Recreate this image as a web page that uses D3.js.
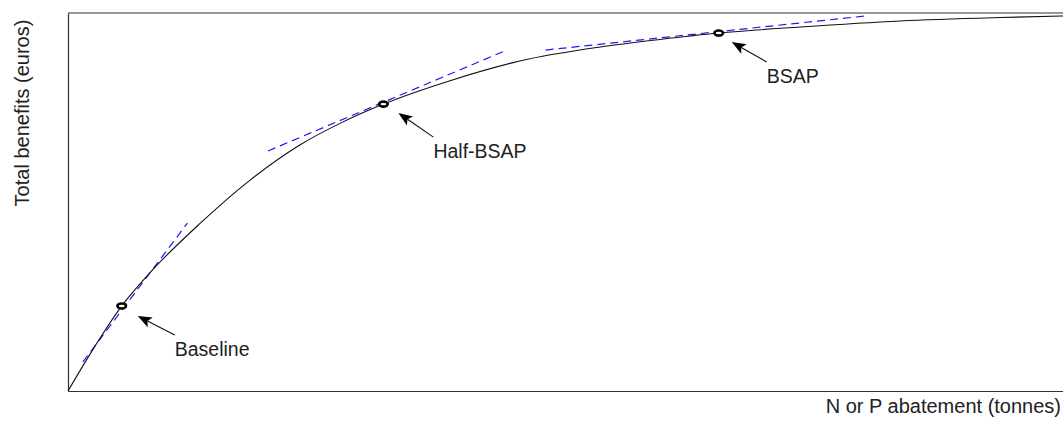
<!DOCTYPE html>
<html><head><meta charset="utf-8">
<script src="https://cdn.jsdelivr.net/npm/d3@7"></script>
<style>body{margin:0;background:#fff}svg{display:block}text{font-family:"Liberation Sans",Arial,sans-serif;fill:#222}</style>
</head><body>
<script>
// Curve data (arbitrary units)
const abatement = [0, 2.7, 5.4, 8.2, 13.3, 18.3, 23.3, 27.5, 31.7, 38.4, 45.4, 53.5, 59.5, 65.4, 73.6, 83.6, 93.7, 100];
const benefits  = [0, 11.8, 22.5, 31.2, 44.4, 55.8, 65.1, 71.0, 75.9, 82.1, 87.3, 91.0, 93.0, 94.7, 96.3, 97.9, 98.8, 99.2];
// Highlighted scenarios
const scenarioNames = ["Baseline", "Half-BSAP", "BSAP"];
const scenarioX = [5.4, 31.7, 65.4];
const scenarioY = [22.5, 75.9, 94.7];
// Tangent line endpoints per scenario
const tangentX1 = [1.5, 20.1, 48.0];
const tangentY1 = [7.7, 63.5, 90.2];
const tangentX2 = [12.0, 44.1, 80.1];
const tangentY2 = [44.4, 90.2, 99.2];
const xTitle = "N or P abatement (tonnes)";
const yTitle = "Total benefits (euros)";

const W = 1063, H = 430;
const m = {left: 68, top: 13, right: 1063, bottom: 391};
const svg = d3.select("body").append("svg").attr("width", W).attr("height", H);
const x = d3.scaleLinear().domain([0, 100]).range([m.left, m.right]);
const y = d3.scaleLinear().domain([0, 100]).range([m.bottom, m.top]);

// frame
const frame = svg.append("g").attr("stroke", "#333").attr("stroke-width", 1.2).attr("fill", "none");
frame.append("line").attr("x1", m.left).attr("x2", W).attr("y1", m.top).attr("y2", m.top);
svg.append("g").attr("transform", `translate(0,${m.bottom})`)
  .call(d3.axisBottom(x).ticks(0).tickSizeOuter(0))
  .call(g => g.select(".domain").attr("stroke", "#333").attr("stroke-width", 1.2));
svg.append("g").attr("transform", `translate(${m.left},0)`)
  .call(d3.axisLeft(y).ticks(0).tickSizeOuter(0))
  .call(g => g.select(".domain").attr("stroke", "#333").attr("stroke-width", 1.2));

// tangents
scenarioNames.forEach((n, i) => {
  svg.append("line")
    .attr("x1", x(tangentX1[i])).attr("y1", y(tangentY1[i]))
    .attr("x2", x(tangentX2[i])).attr("y2", y(tangentY2[i]))
    .attr("stroke", "#1a1aff").attr("stroke-width", 1.2).attr("stroke-dasharray", "8,5");
});

// curve
const pts = abatement.map((v, i) => [v, benefits[i]]);
svg.append("path").datum(pts)
  .attr("d", d3.line().x(d => x(d[0])).y(d => y(d[1])).curve(d3.curveMonotoneX))
  .attr("fill", "none").attr("stroke", "#111").attr("stroke-width", 1.1);

// markers
scenarioNames.forEach((n, i) => {
  svg.append("ellipse").attr("cx", x(scenarioX[i])).attr("cy", y(scenarioY[i]))
    .attr("rx", 4.3).attr("ry", 2.5).attr("fill", "#fff").attr("stroke", "#000").attr("stroke-width", 2.6);
});

// annotations: arrows + labels
const tipOff = [[16, 10], [15, 9], [13, 9]];
const tailOff = [[53, 29], [50, 33], [48, 29]];
scenarioNames.forEach((n, i) => {
  const px = x(scenarioX[i]), py = y(scenarioY[i]);
  const tx = px + tipOff[i][0], ty = py + tipOff[i][1];
  const sx = px + tailOff[i][0], sy = py + tailOff[i][1];
  const ang = Math.atan2(ty - sy, tx - sx);
  const L = 14, hw = 5.5;
  const bx = tx - L * Math.cos(ang), by = ty - L * Math.sin(ang);
  svg.append("line").attr("x1", sx).attr("y1", sy).attr("x2", bx + 3 * Math.cos(ang)).attr("y2", by + 3 * Math.sin(ang))
    .attr("stroke", "#111").attr("stroke-width", 1.1);
  const p1 = [bx + hw * Math.sin(ang), by - hw * Math.cos(ang)];
  const p2 = [bx - hw * Math.sin(ang), by + hw * Math.cos(ang)];
  const notch = [tx - (L - 3) * Math.cos(ang), ty - (L - 3) * Math.sin(ang)];
  svg.append("path").attr("d", `M${tx},${ty}L${p1}L${notch}L${p2}Z`).attr("fill", "#000");
  svg.append("text").attr("x", sx).attr("y", sy + 21).attr("font-size", 19.5).text(n);
});

// axis titles
svg.append("text").attr("x", 1061).attr("y", 413).attr("text-anchor", "end").attr("font-size", 20).text(xTitle);
svg.append("text").attr("transform", "translate(29,113) rotate(-90)").attr("text-anchor", "middle").attr("font-size", 20).text(yTitle);
</script>
</body></html>
